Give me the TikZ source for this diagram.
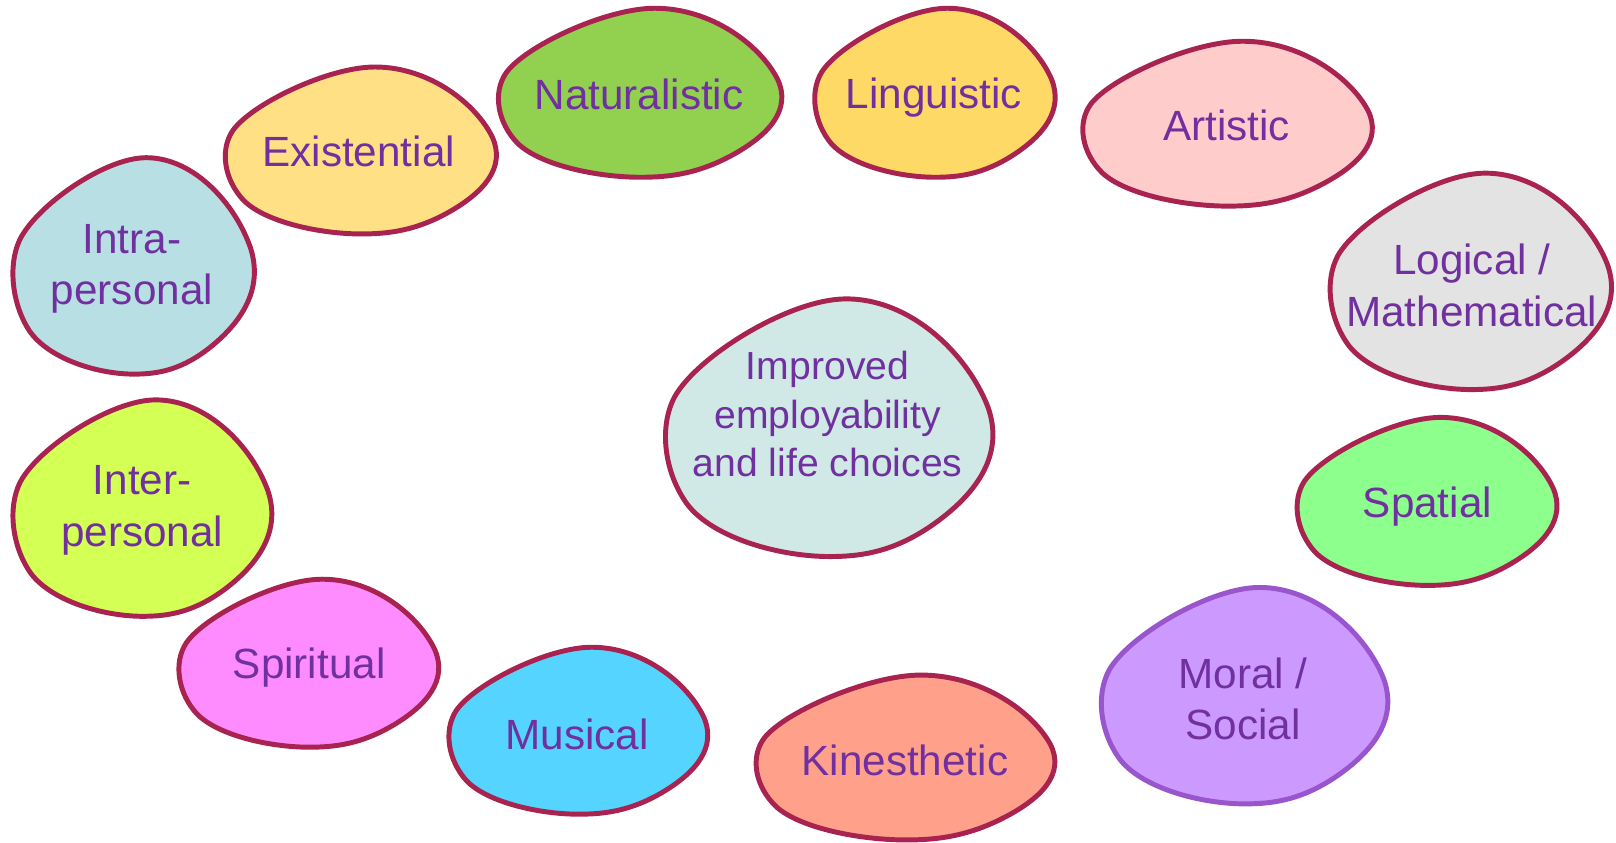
\documentclass[tikz,border=0pt]{standalone}
\usepackage{fontspec}
\setmainfont{Liberation Sans}
\definecolor{edge}{HTML}{A8234F}
\definecolor{moraledge}{HTML}{9955CC}
\definecolor{txt}{HTML}{7030A0}
\definecolor{cNat}{HTML}{92D050}
\definecolor{cLing}{HTML}{FFD966}
\definecolor{cArt}{HTML}{FFCCCC}
\definecolor{cLog}{HTML}{E3E3E3}
\definecolor{cSpa}{HTML}{8CFF8C}
\definecolor{cMor}{HTML}{CC99FF}
\definecolor{cKin}{HTML}{FFA08A}
\definecolor{cMus}{HTML}{55D4FF}
\definecolor{cSpi}{HTML}{FF8CFF}
\definecolor{cInter}{HTML}{D4FF55}
\definecolor{cIntra}{HTML}{B8DFE3}
\definecolor{cExi}{HTML}{FFE085}
\definecolor{cCen}{HTML}{D0E9E6}
\tikzset{
  blobline/.style={line width=4.8pt, draw=edge, line join=round},
  lbl/.style={text=txt, font=\fontsize{41}{50}\selectfont, align=center, inner sep=0pt},
  clbl/.style={text=txt, font=\fontsize{38}{47}\selectfont, align=center, inner sep=0pt},
}
% #1 x0, #2 y0, #3 width, #4 height, #5 fill, #6 extra style
\newcommand\myblob[6]{%
  \begin{scope}[shift={(#1,#2)}, xscale=#3, yscale=#4]
    \path[blobline, fill=#5, #6] (0.55,0)
      .. controls (0.75,0.0) and (0.92,0.22) .. (0.98,0.42)
      .. controls (1.03,0.6) and (0.95,0.75) .. (0.82,0.87)
      .. controls (0.7,0.98) and (0.6,1.0) .. (0.5,1.0)
      .. controls (0.35,1.0) and (0.15,0.93) .. (0.07,0.8)
      .. controls (0.0,0.68) and (-0.02,0.5) .. (0.03,0.38)
      .. controls (0.1,0.22) and (0.38,0.0) .. (0.55,0) -- cycle;
  \end{scope}}
\begin{document}
\begin{tikzpicture}[x=1pt, y=-1pt]
  \useasboundingbox (0,0) rectangle (1568,817);
  \myblob{483}{8}{277}{164}{cNat}{}
  \myblob{790}{8}{235}{164}{cLing}{}
  \myblob{1050}{40}{283}{160}{cArt}{}
  \myblob{1290}{168}{275}{210}{cLog}{}
  \myblob{1258}{405}{254}{163}{cSpa}{}
  \myblob{1068}{570}{280}{210}{cMor}{draw=moraledge}
  \myblob{733}{655}{292}{160}{cKin}{}
  \myblob{435}{628}{253}{162}{cMus}{}
  \myblob{173}{562}{254}{163}{cSpi}{}
  \myblob{12}{388}{253}{210}{cInter}{}
  \myblob{12}{153}{236}{210}{cIntra}{}
  \myblob{218}{65}{265}{162}{cExi}{}
  \myblob{645}{290}{320}{250}{cCen}{}

  \node[lbl] (nat) at (620,92) {Naturalistic};
  \node[lbl] (ling) at (906,95) {Linguistic};
  \node[lbl] (art) at (1190,122) {Artistic};
  \node[lbl] (log) at (1428,277) {Logical /\\Mathematical};
  \node[lbl] (spa) at (1385,492) {Spatial};
  \node[lbl] (mor) at (1206,678) {Moral /\\Social};
  \node[lbl] (kin) at (878,738) {Kinesthetic};
  \node[lbl] (mus) at (560,713) {Musical};
  \node[lbl] (spi) at (300,648) {Spiritual};
  \node[lbl] (inter) at (138,495) {Inter-\\personal};
  \node[lbl] (intra) at (128,261) {Intra-\\personal};
  \node[lbl] (exi) at (348,147) {Existential};
  \node[clbl] (cen) at (803,402) {Improved\\employability\\and life choices};
\end{tikzpicture}
\end{document}
